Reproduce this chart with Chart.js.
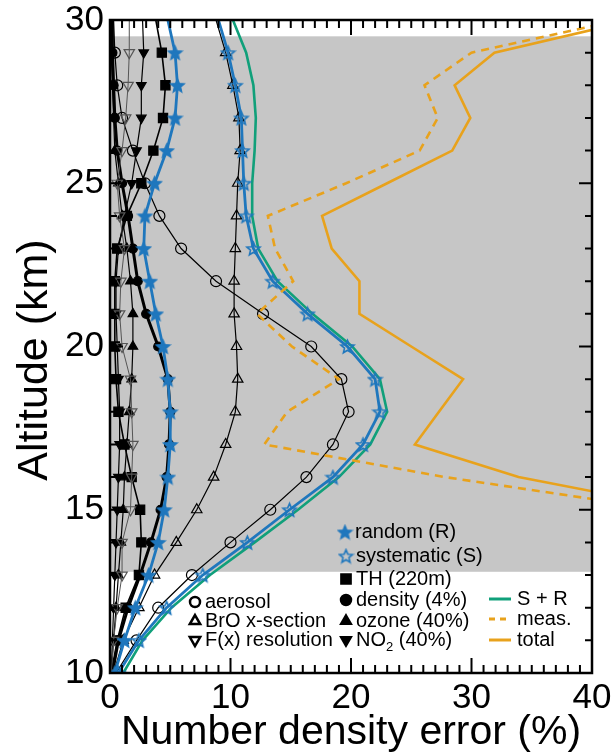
<!DOCTYPE html>
<html>
<head>
<meta charset="utf-8">
<script src="https://cdn.jsdelivr.net/npm/chart.js@4.4.1/dist/chart.umd.min.js"></script>
<style>
  html, body { margin: 0; padding: 0; background: #fff; }
  #wrap { width: 614px; height: 755px; }
</style>
</head>
<body>
<div id="wrap"><canvas id="chart" width="614" height="755"></canvas></div>
<script>
// altitude grid (km) for the error components
const altitude = [10, 11, 12, 13, 14, 15, 16, 17, 18, 19, 20, 21, 22, 23, 24, 25, 26, 27, 28, 29, 30];

// systematic components (%)
const aerosol = [0.5, 2.2, 4.0, 6.8, 10.0, 13.3, 16.3, 18.5, 19.8, 19.2, 16.7, 12.7, 8.8, 5.9, 4.1, 2.9, 1.9, 1.0, 0.6, 0.4, 0.3];
const broXsec = [0.3, 1.1, 2.4, 3.7, 5.5, 7.2, 8.6, 9.6, 10.4, 10.6, 10.5, 10.3, 10.3, 10.4, 10.5, 10.6, 10.8, 10.7, 10.2, 9.6, 8.8];
const fxRes = [0.1, 0.3, 0.6, 1.0, 1.0, 1.7, 1.8, 1.9, 1.8, 1.7, 1.0, 0.8, 0.9, 1.2, 0.8, 0.6, 1.0, 1.3, 1.5, 1.6, 1.6];

// random components (%)
const thErr = [0.1, 0.6, 1.3, 2.4, 2.6, 2.5, 1.8, 1.2, 0.7, 0.5, 0.4, 0.4, 0.4, 0.6, 1.4, 2.6, 3.6, 4.4, 4.6, 4.3, 3.8];
const density = [0.2, 0.7, 1.5, 2.5, 3.4, 4.2, 4.7, 4.9, 5.0, 4.8, 4.0, 3.0, 2.3, 1.9, 1.5, 1.0, 0.6, 0.4, 0.3, 0.2, 0.2];
const ozone = [0.1, 0.3, 0.5, 0.7, 0.9, 1.1, 1.2, 1.4, 1.6, 1.8, 1.9, 1.9, 1.7, 1.4, 1.0, 0.7, 0.4, 0.3, 0.2, 0.1, 0.1];
const no2 = [0.1, 0.2, 0.3, 0.4, 0.5, 0.6, 0.7, 0.8, 0.8, 0.7, 0.6, 0.5, 0.5, 0.7, 1.2, 1.8, 2.2, 2.6, 2.6, 2.8, 2.7];

// totals (%)
const randomErr = [0.4, 1.2, 2.1, 3.2, 4.0, 4.5, 4.8, 5.0, 5.0, 4.8, 4.4, 3.8, 3.3, 2.8, 2.9, 3.7, 4.7, 5.4, 5.6, 5.4, 4.8];
const systematicErr = [0.7, 2.4, 4.7, 7.7, 11.4, 14.9, 18.5, 21.0, 22.4, 22.0, 19.7, 16.4, 13.5, 11.9, 11.3, 11.1, 11.0, 10.9, 10.4, 9.8, 9.0];
const sPlusR = [1.1, 2.7, 5.1, 8.3, 12.0, 15.6, 19.0, 21.6, 23.0, 22.4, 20.1, 16.8, 13.9, 12.3, 11.8, 11.8, 12.0, 12.1, 11.9, 11.3, 10.2];

// measurement and total error, 15-30 km (%)
const altitudeHigh = [15, 16, 17, 18, 19, 20, 21, 22, 23, 24, 25, 26, 27, 28, 29, 30];
const measErr = [46, 27.8, 12.8, 14.7, 19.0, 15.1, 12.2, 15.2, 13.7, 13.1, 19.6, 25.7, 27.2, 26.1, 30.0, 42.3];
const totalErr = [48, 33.9, 25.3, 27.3, 29.3, 25.0, 20.7, 20.7, 18.4, 17.6, 23.0, 28.4, 29.9, 28.6, 31.9, 43.5];

// shaded altitude band (km)
const shadeBottom = 13.1;
const shadeTop = 29.5;

const xTicks = [0, 10, 20, 30, 40];
const yTicks = [10, 15, 20, 25, 30];

const BLUE = "#1f77bd";
const GREEN = "#10a07a";
const ORANGE = "#e8a21c";
const FONT = "'Liberation Sans', Arial, Helvetica, sans-serif";

const pts = (xs, ys) => xs.map((v, i) => ({ x: v, y: ys[i] }));

function starImage(size, fill, stroke, lw) {
  const c = document.createElement("canvas");
  c.width = c.height = size;
  const g = c.getContext("2d");
  const R = size / 2 - lw;
  const r = R * 0.45;
  const cx = size / 2, cy = size / 2 + R * 0.1;
  g.beginPath();
  for (let i = 0; i < 10; i++) {
    const rad = i % 2 ? r : R;
    const ang = -Math.PI / 2 + (i * Math.PI) / 5;
    g.lineTo(cx + rad * Math.cos(ang), cy + rad * Math.sin(ang));
  }
  g.closePath();
  if (fill) {
    g.fillStyle = fill;
    g.fill();
  }
  g.strokeStyle = stroke;
  g.lineWidth = lw;
  g.stroke();
  return c;
}

const starFilled = starImage(17, BLUE, BLUE, 1.2);
const starOpen = starImage(17, null, BLUE, 1.6);

// no marker on the top edge
const hideTop = (r) => (c) => (altitude[c.dataIndex] >= 30 ? 0 : r);

function blackSeries(label, data, style, opts) {
  return Object.assign(
    {
      label,
      data: pts(data, altitude),
      borderColor: "#000",
      backgroundColor: "#000",
      pointBorderColor: "#000",
      pointBackgroundColor: "#000",
      borderWidth: 1.2,
      pointStyle: style,
      pointRadius: hideTop(5),
      pointBorderWidth: 1.2,
      order: 5,
    },
    opts
  );
}

const datasets = [
  blackSeries("F(x) resolution", fxRes, "triangle", {
    borderColor: "#555",
    pointBorderColor: "#555",
    pointBackgroundColor: "rgba(0,0,0,0)",
    borderWidth: 1,
    pointRotation: 180,
    pointRadius: hideTop(6),
  }),
  blackSeries("NO2 (40%)", no2, "triangle", { pointRotation: 180, pointRadius: hideTop(5.5) }),
  blackSeries("ozone (40%)", ozone, "triangle", { pointRadius: hideTop(5.5) }),
  blackSeries("TH (220m)", thErr, "rect", { borderWidth: 1.6, pointRadius: hideTop(6.5) }),
  blackSeries("density (4%)", density, "circle", { borderWidth: 3, pointRadius: hideTop(4.5) }),
  blackSeries("BrO x-section", broXsec, "triangle", {
    pointBackgroundColor: "rgba(0,0,0,0)",
    pointRadius: hideTop(6),
  }),
  blackSeries("aerosol", aerosol, "circle", {
    pointBackgroundColor: "rgba(0,0,0,0)",
    pointRadius: hideTop(5.5),
  }),
  {
    label: "random (R)",
    data: pts(randomErr, altitude),
    borderColor: BLUE,
    borderWidth: 2.8,
    pointStyle: starFilled,
    pointRadius: hideTop(8),
    order: 3,
  },
  {
    label: "systematic (S)",
    data: pts(systematicErr, altitude),
    borderColor: BLUE,
    borderWidth: 2.8,
    pointStyle: starOpen,
    pointRadius: hideTop(8),
    order: 3,
  },
  {
    label: "S + R",
    data: pts(sPlusR, altitude),
    borderColor: GREEN,
    borderWidth: 2.6,
    pointRadius: 0,
    order: 4,
  },
  {
    label: "meas.",
    data: pts(measErr, altitudeHigh),
    borderColor: ORANGE,
    borderWidth: 2.6,
    borderDash: [8, 6],
    pointRadius: 0,
    order: 2,
  },
  {
    label: "total",
    data: pts(totalErr, altitudeHigh),
    borderColor: ORANGE,
    borderWidth: 2.6,
    pointRadius: 0,
    order: 2,
  },
];

// legend block drawn inside the plot
const legendMarkers = [
  { text: "random (R)", style: starFilled, x: 345, y: 532 },
  { text: "systematic (S)", style: starOpen, x: 346, y: 556 },
  { text: "TH (220m)", style: "rect", fill: "#000", r: 6.5, x: 346, y: 579 },
  { text: "density (4%)", style: "circle", fill: "#000", r: 5, x: 346, y: 600 },
  { text: "ozone (40%)", style: "triangle", fill: "#000", r: 5.5, x: 346, y: 621 },
  { text: "NO|2| (40%)", style: "triangle", rot: 180, fill: "#000", r: 5.5, x: 346, y: 640 },
  { text: "aerosol", style: "circle", fill: null, r: 5, x: 195, y: 602 },
  { text: "BrO x-section", style: "triangle", fill: null, r: 6, x: 195, y: 621 },
  { text: "F(x) resolution", style: "triangle", rot: 180, fill: null, r: 6, x: 195, y: 640 },
];
const legendLines = [
  { text: "S + R", color: GREEN, dash: [], y: 599 },
  { text: "meas.", color: ORANGE, dash: [6, 5], y: 619 },
  { text: "total", color: ORANGE, dash: [], y: 640 },
];

const decor = {
  id: "decor",
  beforeDatasetsDraw(chart) {
    const { ctx, chartArea: a, scales } = chart;
    const yt = scales.y.getPixelForValue(shadeTop);
    const yb = scales.y.getPixelForValue(shadeBottom);
    ctx.save();
    ctx.fillStyle = "#c6c6c6";
    ctx.fillRect(a.left, yt, a.right - a.left, yb - yt);
    ctx.restore();
  },
  afterDatasetsDraw(chart) {
    const { ctx, chartArea: a, scales } = chart;
    ctx.save();
    ctx.strokeStyle = "#000";
    ctx.lineWidth = 2;
    ctx.beginPath();
    for (let v = 0; v <= 40; v++) {
      const px = scales.x.getPixelForValue(v);
      const len = v % 10 === 0 ? 15 : 8;
      ctx.moveTo(px, a.bottom);
      ctx.lineTo(px, a.bottom - len);
      ctx.moveTo(px, a.top);
      ctx.lineTo(px, a.top + len);
    }
    for (let v = 10; v <= 30; v++) {
      const py = scales.y.getPixelForValue(v);
      const len = v % 5 === 0 ? 13 : 7;
      ctx.moveTo(a.left, py);
      ctx.lineTo(a.left + len, py);
      ctx.moveTo(a.right, py);
      ctx.lineTo(a.right - len, py);
    }
    ctx.stroke();
    ctx.lineWidth = 2.5;
    ctx.strokeRect(a.left, a.top, a.right - a.left, a.bottom - a.top);

    // legend
    ctx.font = "20px " + FONT;
    ctx.textBaseline = "middle";
    ctx.fillStyle = "#000";
    legendMarkers.forEach((m) => {
      if (typeof m.style === "string") {
        ctx.fillStyle = m.fill || "rgba(0,0,0,0)";
        ctx.strokeStyle = "#000";
        Chart.helpers.drawPoint(ctx, {
          pointStyle: m.style,
          radius: m.r,
          rotation: m.rot || 0,
          borderWidth: 1.2,
        }, m.x, m.y);
      } else {
        ctx.drawImage(m.style, m.x - m.style.width / 2, m.y - m.style.height / 2);
      }
      ctx.fillStyle = "#000";
      const parts = m.text.split("|");
      let tx = m.x + 10;
      parts.forEach((p, i) => {
        if (i === 1) {
          ctx.font = "13px " + FONT;
          ctx.fillText(p, tx, m.y + 7);
          tx += ctx.measureText(p).width;
          ctx.font = "20px " + FONT;
        } else {
          ctx.fillText(p, tx, m.y);
          tx += ctx.measureText(p).width;
        }
      });
    });
    legendLines.forEach((l) => {
      ctx.strokeStyle = l.color;
      ctx.lineWidth = 3;
      ctx.setLineDash(l.dash);
      ctx.beginPath();
      ctx.moveTo(489, l.y);
      ctx.lineTo(511, l.y);
      ctx.stroke();
      ctx.setLineDash([]);
      ctx.fillStyle = "#000";
      ctx.fillText(l.text, 517, l.y);
    });

    // y axis title
    ctx.translate(35, 360);
    ctx.rotate(-Math.PI / 2);
    ctx.font = "43px " + FONT;
    ctx.textAlign = "center";
    ctx.fillText("Altitude (km)", 0, 0);
    ctx.restore();
  },
};

new Chart(document.getElementById("chart").getContext("2d"), {
  type: "line",
  data: { datasets },
  plugins: [decor],
  options: {
    responsive: false,
    animation: false,
    events: [],
    layout: { padding: { top: 20, right: 22, left: 0, bottom: 0 } },
    elements: { line: { tension: 0 } },
    plugins: { legend: { display: false }, tooltip: { enabled: false } },
    scales: {
      x: {
        type: "linear",
        min: 0,
        max: 40,
        afterFit: (s) => {
          s.height = 82;
          s.paddingLeft = 0;
          s.paddingRight = 0;
        },
        afterBuildTicks: (s) => { s.ticks = xTicks.map((v) => ({ value: v })); },
        grid: { display: false, drawTicks: false },
        border: { display: false },
        ticks: {
          color: "#000",
          padding: 8,
          maxRotation: 0,
          font: { family: FONT, size: 35, lineHeight: 1 },
        },
        title: {
          display: true,
          text: "Number density error (%)",
          color: "#000",
          padding: { top: 0, bottom: 0 },
          font: { family: FONT, size: 41, lineHeight: 1.1 },
        },
      },
      y: {
        type: "linear",
        min: 10,
        max: 30,
        afterFit: (s) => {
          s.width = 110;
          s.paddingTop = 0;
          s.paddingBottom = 0;
        },
        afterBuildTicks: (s) => { s.ticks = yTicks.map((v) => ({ value: v })); },
        grid: { display: false, drawTicks: false },
        border: { display: false },
        ticks: {
          color: "#000",
          padding: 6,
          font: { family: FONT, size: 35, lineHeight: 1 },
        },
      },
    },
  },
});
</script>
</body>
</html>
